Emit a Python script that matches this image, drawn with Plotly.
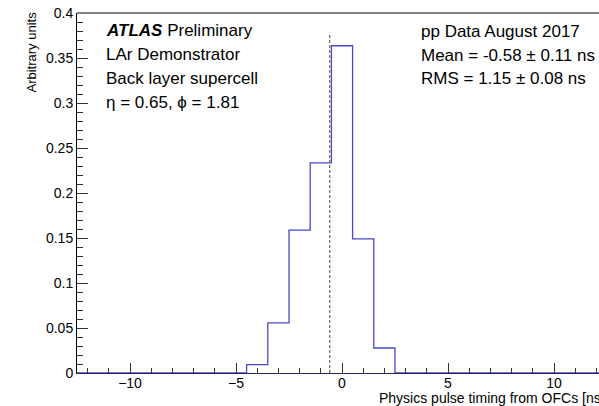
import numpy as np
import plotly.graph_objects as go

# Histogram definition: 25 bins of 1 ns from -12.5 to 12.5 ns
x_min, x_max, bin_width = -12.5, 12.5, 1.0
# Non-empty bins (bin centre in ns) and normalised content
bin_centers = [-4, -3, -2, -1, 0, 1, 2]
bin_values = [0.0093, 0.0556, 0.1588, 0.2334, 0.3636, 0.1491, 0.0278]

# Fit summary shown in the legend text
mean_ns = -0.58
mean_err = 0.11
rms_ns = 1.15
rms_err = 0.08

x_ticks = [-10, -5, 0, 5, 10]
y_ticks = [0, 0.05, 0.1, 0.15, 0.2, 0.25, 0.3, 0.35, 0.4]

# Build the full step outline (including empty bins along zero)
n_bins = int(round((x_max - x_min) / bin_width))
edges = x_min + bin_width * np.arange(n_bins + 1)
contents = np.zeros(n_bins)
for c, v in zip(bin_centers, bin_values):
    contents[int(round((c - x_min) / bin_width - 0.5))] = v
step_x = list(edges)
step_y = list(contents) + [contents[-1]]

W, H = 599, 406
ML, MR, MT, MB = 77, 0, 13, 33
pw, ph = W - ML - MR, H - MT - MB
px_per_ns = 21.2
x_view_max = x_min + pw / px_per_ns

fig = go.Figure()

fig.add_trace(go.Scatter(
    x=step_x, y=step_y, mode="lines", line_shape="hv",
    line=dict(color="#4848d0", width=1.3), hoverinfo="skip", showlegend=False,
))

# Dashed marker at the mean
fig.add_trace(go.Scatter(
    x=[mean_ns, mean_ns], y=[0, 1.04 * max(bin_values)], mode="lines",
    line=dict(color="#707070", width=1.3, dash="3px,2px"),
    hoverinfo="skip", showlegend=False,
))

font_family = "Liberation Sans, Arial, Helvetica, sans-serif"


def py(pix):
    """Paper y coordinate from a pixel row measured from the top of the figure."""
    return 1 - (pix - MT) / ph


def pxp(pix):
    return (pix - ML) / pw


left_lines = [
    "<b><i>ATLAS</i></b> Preliminary",
    "LAr Demonstrator",
    "Back layer supercell",
    "η = 0.65, ϕ = 1.81",
]
right_lines = [
    "pp Data August 2017",
    f"Mean = {mean_ns:.2f} ± {mean_err:.2f} ns",
    f"RMS = {rms_ns:.2f} ± {rms_err:.2f} ns",
]

annotations = []
for i, t in enumerate(left_lines):
    annotations.append(dict(
        text=t, xref="paper", yref="paper", x=pxp(104), y=py(30 + 24 * i),
        xanchor="left", yanchor="middle", showarrow=False,
        font=dict(family=font_family, size=17, color="black"),
    ))
for i, t in enumerate(right_lines):
    annotations.append(dict(
        text=t, xref="paper", yref="paper", x=pxp(419), y=py(31.5 + 23.7 * i),
        xanchor="left", yanchor="middle", showarrow=False,
        font=dict(family=font_family, size=17, color="black"),
    ))

# Axis titles (ROOT style: aligned to the axis ends)
annotations.append(dict(
    text="Arbitrary units", xref="paper", yref="paper",
    x=pxp(31), y=py(10), xanchor="center", yanchor="top", textangle=-90,
    showarrow=False, font=dict(family=font_family, size=13, color="black"),
))
annotations.append(dict(
    text="Physics pulse timing from OFCs [ns]", xref="paper", yref="paper",
    x=pxp(ML + (x_max - x_min) * px_per_ns), y=py(398),
    xanchor="right", yanchor="middle", showarrow=False,
    font=dict(family=font_family, size=14, color="black"),
))

fig.update_layout(
    width=W, height=H,
    margin=dict(l=ML, r=MR, t=MT, b=MB),
    paper_bgcolor="white", plot_bgcolor="white",
    annotations=annotations,
    shapes=[dict(type="line", xref="paper", yref="paper", x0=0, x1=1, y0=1, y1=1,
                 line=dict(color="black", width=1))],
    font=dict(family=font_family, size=14, color="black"),
)

fig.update_xaxes(
    range=[x_min, x_view_max], tickvals=x_ticks,
    ticks="inside", ticklen=10, tickwidth=1, tickcolor="#333333",
    minor=dict(ticks="inside", ticklen=5, dtick=1, tick0=0, tickcolor="#333333"),
    showline=True, linecolor="#262652", linewidth=1.3,
    showgrid=False, zeroline=False, ticklabelstandoff=-3,
    tickfont=dict(family=font_family, size=14, color="black"),
)
fig.update_yaxes(
    range=[0, 0.4], tickvals=y_ticks,
    ticks="inside", ticklen=11, tickwidth=1, tickcolor="#333333",
    minor=dict(ticks="inside", ticklen=6, dtick=0.01, tick0=0, tickcolor="#333333"),
    showline=True, linecolor="black", linewidth=1,
    showgrid=False, zeroline=False,
    tickfont=dict(family=font_family, size=14, color="black"),
)

fig.write_html("out.html")
